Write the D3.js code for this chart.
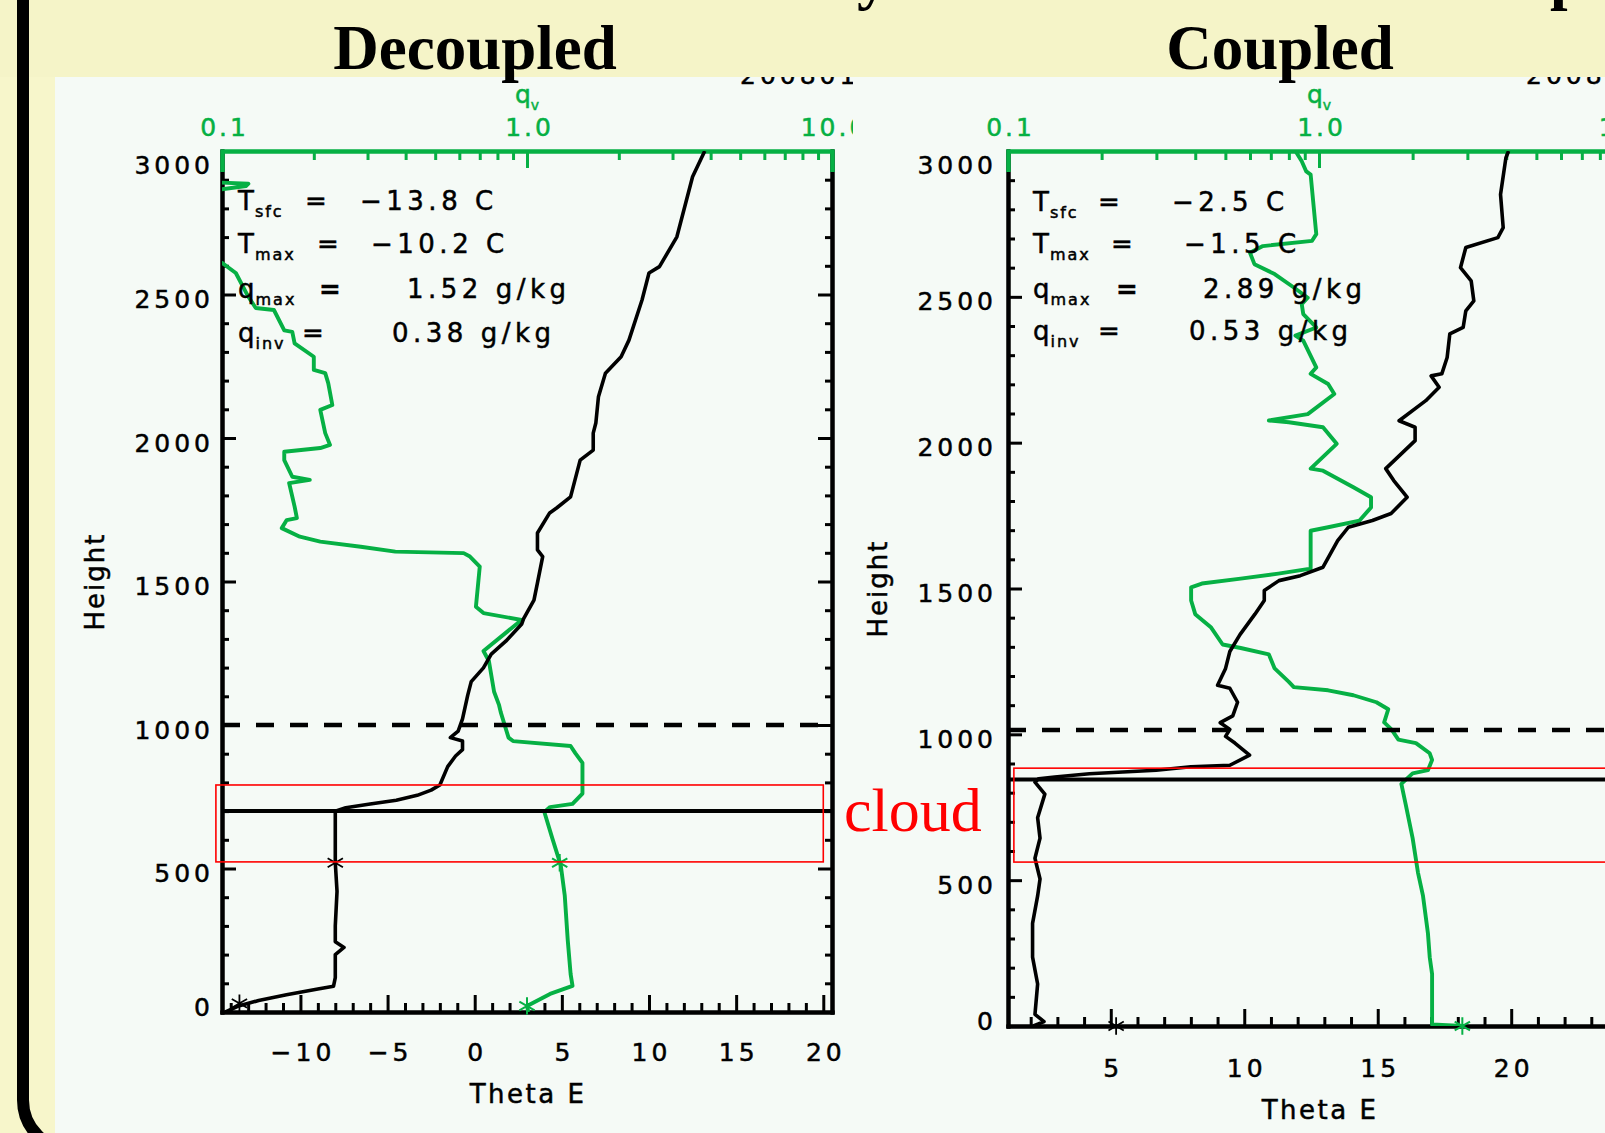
<!DOCTYPE html>
<html>
<head>
<meta charset="utf-8">
<script src="https://cdn.jsdelivr.net/npm/d3@7"></script>
<style>
  html, body { margin: 0; padding: 0; background: #f7f6cb; }
  svg { display: block; }
</style>
</head>
<body>
<svg id="chart" width="1605" height="1133"></svg>
<script>
// ---- Sounding data: [height (m), value] ----
// Decoupled case: equivalent potential temperature (°C)
const decThetaE = [
  [0,-14.3],[20,-13.6],[40,-12.4],[60,-10.8],[80,-9.0],[90,-8.1],[120,-8.0],[200,-8.0],[225,-7.5],
  [245,-8.0],[300,-8.0],[420,-7.9],[520,-8.0],[600,-8.0],[700,-8.0],[712,-7.4],[725,-6.0],[738,-4.5],
  [755,-3.3],[773,-2.5],[791,-2.0],[855,-1.55],[892,-1.1],[914,-0.7],[944,-0.7],[956,-1.4],[979,-0.95],
  [1021,-0.7],[1104,-0.4],[1151,-0.2],[1199,0.5],[1247,0.95],[1293,1.8],[1352,2.7],[1370,2.8],
  [1435,3.4],[1495,3.6],[1587,3.9],[1610,3.6],[1669,3.6],[1739,4.3],[1756,4.7],[1795,5.5],[1923,6.05],
  [1958,6.8],[2017,6.8],[2052,6.95],[2144,7.1],[2226,7.5],[2283,8.4],[2341,8.85],[2481,9.6],
  [2575,10.0],[2597,10.6],[2701,11.6],[2910,12.5],[3000,13.2]
];
// Decoupled case: water vapour mixing ratio (g/kg)
const decQv = [
  [0,1.01],[21,1.0],[63,1.19],[91,1.41],[132,1.39],[251,1.36],[405,1.33],[512,1.29],[606,1.21],
  [697,1.14],[714,1.19],[725,1.41],[761,1.52],[868,1.52],[902,1.44],[927,1.39],[944,0.90],[956,0.87],
  [1045,0.82],[1069,0.81],[1116,0.78],[1223,0.75],[1258,0.72],[1366,0.96],[1390,0.72],[1412,0.68],
  [1482,0.69],[1552,0.70],[1587,0.65],[1599,0.62],[1604,0.37],[1621,0.285],[1639,0.21],[1656,0.18],
  [1686,0.157],[1714,0.163],[1721,0.176],[1761,0.173],[1843,0.166],[1854,0.194],[1865,0.17],
  [1923,0.16],[1952,0.16],[1965,0.21],[1976,0.226],[2017,0.218],[2098,0.21],[2115,0.23],[2191,0.223],
  [2226,0.218],[2237,0.2],[2283,0.2],[2330,0.173],[2370,0.17],[2375,0.16],[2446,0.148],[2453,0.129],
  [2492,0.122],[2575,0.111],[2610,0.100],[2640,0.09],[2750,0.085],[2860,0.09],[2878,0.12],
  [2886,0.122],[2892,0.09],[3000,0.085]
];
// Coupled case: equivalent potential temperature (°C)
const cplThetaE = [
  [0,2.1],[15,2.5],[40,2.16],[144,2.26],[236,2.07],[352,2.07],[446,2.26],[504,2.35],[575,2.16],
  [644,2.35],[714,2.26],[795,2.53],[836,2.16],[848,2.3],[854,2.9],[865,4.2],[877,6.7],[889,8.0],
  [894,9.46],[929,10.2],[970,9.65],[993,9.3],[1017,9.46],[1040,9.1],[1063,9.57],[1110,9.75],
  [1158,9.46],[1168,9.0],[1226,9.3],[1284,9.46],[1342,9.84],[1412,10.4],[1459,10.75],[1493,10.75],
  [1527,11.3],[1544,12.1],[1573,12.95],[1664,13.5],[1710,13.9],[1733,14.8],[1757,15.5],[1813,16.1],
  [1870,15.6],[1911,15.3],[2007,16.4],[2053,16.4],[2075,15.8],[2144,16.8],[2190,17.3],[2229,17.0],
  [2236,17.4],[2292,17.6],[2373,17.7],[2395,18.2],[2452,18.3],[2486,18.6],[2555,18.5],[2600,18.1],
  [2669,18.3],[2703,19.5],[2737,19.7],[2851,19.6],[2976,19.8],[3000,19.9]
];
// Coupled case: water vapour mixing ratio (g/kg)
const cplQv = [
  [0,2.89],[5,2.31],[178,2.31],[236,2.27],[318,2.24],[446,2.16],[527,2.08],[644,2.0],[760,1.9],
  [830,1.84],[866,2.0],[877,2.24],[912,2.31],[935,2.27],[970,2.05],[982,1.8],[1017,1.71],[1041,1.62],
  [1086,1.67],[1110,1.53],[1134,1.29],[1151,1.07],[1162,0.83],[1180,0.80],[1226,0.72],[1274,0.69],
  [1296,0.56],[1308,0.49],[1366,0.45],[1412,0.40],[1459,0.388],[1504,0.388],[1517,0.42],[1534,0.56],
  [1551,0.74],[1568,0.94],[1698,0.94],[1710,1.07],[1733,1.35],[1778,1.47],[1813,1.47],[1847,1.29],
  [1904,1.03],[1911,0.94],[1996,1.14],[2053,1.03],[2070,0.80],[2076,0.69],[2098,0.92],[2167,1.12],
  [2201,1.07],[2236,0.94],[2258,0.98],[2350,0.89],[2367,0.84],[2395,0.98],[2441,0.89],[2475,0.88],
  [2497,0.92],[2532,0.83],[2578,0.72],[2612,0.62],[2651,0.60],[2674,0.66],[2692,0.95],[2715,0.98],
  [2919,0.94],[2930,0.91],[2965,0.88],[3000,0.84]
];

// Marked observations: [height, value]
const decThetaMarks = [[30,-13.5],[520,-8.0]];
const decQvMarks = [[21,1.0],[520,1.28]];
const cplThetaMarks = [[0,5.2]];
const cplQvMarks = [[0,2.89]];

// Inversion base (solid) and reference level (dashed), metres
const decLevels = { inversion: 700, reference: 1000 };
const cplLevels = { inversion: 845, reference: 1015 };

// Highlighted cloud layer: theta-E extent and height extent
const decCloud = { theta: [-14.85, 20.0], height: [523, 791] };
const cplCloud = { theta: [1.37, 30], height: [562, 884] };

// Summary values printed inside each panel
const decStats = [
  { sym: "T", sub: "sfc", value: "\u221213.8 C" },
  { sym: "T", sub: "max", value: "\u221210.2 C" },
  { sym: "q", sub: "max", value: "1.52 g/kg" },
  { sym: "q", sub: "inv", value: "0.38 g/kg" }
];
const cplStats = [
  { sym: "T", sub: "sfc", value: "\u22122.5 C" },
  { sym: "T", sub: "max", value: "\u22121.5 C" },
  { sym: "q", sub: "max", value: "2.89 g/kg" },
  { sym: "q", sub: "inv", value: "0.53 g/kg" }
];

const heightMajor = [0, 500, 1000, 1500, 2000, 2500, 3000];
const qvMajor = [0.1, 1, 10];
const qvTickLabels = ["0.1", "1.0", "10.0"];
const qvMinor = [0.2,0.3,0.4,0.5,0.6,0.7,0.8,0.9,2,3,4,5,6,7,8,9];
const panelTitles = ["Decoupled", "Coupled"];
const dateLabels = ["20080115", "20080121"];

// ---- Drawing ----
const W = 1605, H = 1133, BAND = 77;
const GREEN = "#06b044";
const FONT = "'DejaVu Sans', Verdana, sans-serif";
const SERIF = "'Liberation Serif', 'Times New Roman', serif";
const LS = 4;   // letter spacing of the plot lettering

const svg = d3.select("#chart");
const defs = svg.append("defs");
svg.append("rect").attr("width", W).attr("height", H).attr("fill", "#f7f6cb");

const panels = [
  { key: "dec", title: panelTitles[0], date: dateLabels[0], theta: decThetaE, qv: decQv,
    thetaMarks: decThetaMarks, qvMarks: decQvMarks, levels: decLevels, cloud: decCloud, stats: decStats,
    thetaDomain: [-14.5, 20.5], x0: 222, x1: 832, yTop: 151, yBot: 1012, imgX0: 55, imgX1: 853,
    leftPad: 8, bottomPad: 31, titleX: 475, heightX: 95, xTitleY: 1103,
    statX: 16, statBase: [210, 253, 298, 342], eqOff: [83, 95, 97, 80], valOff: [138, 149, 185, 170] },
  { key: "cpl", title: panelTitles[1], date: dateLabels[1], theta: cplThetaE, qv: cplQv,
    thetaMarks: cplThetaMarks, qvMarks: cplQvMarks, levels: cplLevels, cloud: cplCloud, stats: cplStats,
    thetaDomain: [1.15, 24.45], x0: 1008, x1: 1630, yTop: 151, yBot: 1026, imgX0: 853, imgX1: 1605,
    leftPad: 11, bottomPad: 33, titleX: 1280, heightX: 878, xTitleY: 1119,
    statX: 25, statBase: [211, 253, 298, 340], eqOff: [90, 103, 108, 90], valOff: [164, 176, 195, 181] }
];

function styleAxis(sel, color, domainWidth, tickWidth) {
  sel.attr("color", color).attr("font-family", FONT).attr("font-size", 25);
  sel.select(".domain").attr("stroke-width", domainWidth).attr("stroke-linecap", "square");
  sel.selectAll(".tick line").attr("stroke-width", tickWidth);
  sel.selectAll(".tick text").style("letter-spacing", LS + "px")
    .attr("stroke", "currentColor").attr("stroke-width", 0.5);
}

function idlText(g, x, y, str, size, anchor, spacing) {
  return g.append("text").attr("x", x).attr("y", y)
    .attr("font-family", FONT).attr("font-size", size || 26)
    .attr("text-anchor", anchor || "start")
    .style("letter-spacing", (spacing == null ? LS : spacing) + "px")
    .attr("fill", "#000").attr("stroke", "#000").attr("stroke-width", 0.5).text(str);
}

const overlay = [];

panels.forEach(p => {
  const x = d3.scaleLinear().domain(p.thetaDomain).range([p.x0, p.x1]);
  const xq = d3.scaleLog().domain([0.1, 10]).range([p.x0, p.x1]);
  const y = d3.scaleLinear().domain([0, 3000]).range([p.yBot, p.yTop]);

  defs.append("clipPath").attr("id", "img-" + p.key)
    .append("rect").attr("x", p.imgX0).attr("y", BAND).attr("width", p.imgX1 - p.imgX0).attr("height", H - BAND);
  defs.append("clipPath").attr("id", "plot-" + p.key)
    .append("rect").attr("x", p.x0).attr("y", p.yTop).attr("width", p.x1 - p.x0).attr("height", p.yBot - p.yTop);

  const g = svg.append("g").attr("clip-path", `url(#img-${p.key})`);
  g.append("rect").attr("x", p.imgX0).attr("y", BAND).attr("width", p.imgX1 - p.imgX0)
    .attr("height", H - BAND).attr("fill", "#f5faf6");

  // date stamp, mostly hidden behind the title band
  idlText(g, p.x0 + 518, 84, p.date, 25);

  // height axis (left), with inward ticks; end labels nudged inward
  const yMinor = d3.range(0, 3001, 100).filter(v => v % 500 !== 0);
  const labelDy = d => d === 3000 ? "0.88em" : d === 0 ? "0.12em" : "0.52em";
  g.append("g").attr("transform", `translate(${p.x0},0)`)
    .call(d3.axisLeft(y).tickValues(yMinor).tickSizeInner(-7).tickSizeOuter(0).tickFormat(""))
    .call(s => styleAxis(s, "#000", 4, 3));
  g.append("g").attr("transform", `translate(${p.x0},0)`)
    .call(d3.axisLeft(y).tickValues(heightMajor).tickSizeInner(-14).tickSizeOuter(0)
      .tickPadding(p.leftPad).tickFormat(d3.format("d")))
    .call(s => styleAxis(s, "#000", 4, 3))
    .call(s => s.selectAll(".tick text").attr("dy", labelDy));

  // right edge of the frame
  g.append("g").attr("transform", `translate(${p.x1},0)`)
    .call(d3.axisRight(y).tickValues(yMinor).tickSizeInner(-7).tickSizeOuter(0).tickFormat(""))
    .call(s => styleAxis(s, "#000", 4, 3));
  g.append("g").attr("transform", `translate(${p.x1},0)`)
    .call(d3.axisRight(y).tickValues(heightMajor).tickSizeInner(-14).tickSizeOuter(0).tickFormat(""))
    .call(s => styleAxis(s, "#000", 4, 3));

  // theta-E axis (bottom)
  const [t0, t1] = p.thetaDomain;
  const tMajor = d3.range(Math.ceil(t0 / 5) * 5, t1 + 0.001, 5);
  const tMinor = d3.range(Math.ceil(t0), t1 + 0.001, 1).filter(v => v % 5 !== 0);
  g.append("g").attr("transform", `translate(0,${p.yBot})`)
    .call(d3.axisBottom(x).tickValues(tMinor).tickSizeInner(-9).tickSizeOuter(0).tickFormat(""))
    .call(s => styleAxis(s, "#000", 4, 3));
  g.append("g").attr("transform", `translate(0,${p.yBot})`)
    .call(d3.axisBottom(x).tickValues(tMajor).tickSizeInner(-17).tickSizeOuter(0)
      .tickPadding(p.bottomPad).tickFormat(d3.format("d")))
    .call(s => styleAxis(s, "#000", 4, 3))
    .call(s => s.selectAll(".tick text").attr("dx", LS / 2));

  // mixing-ratio axis (top, log)
  g.append("g").attr("transform", `translate(0,${p.yTop})`)
    .call(d3.axisTop(xq).tickValues(qvMinor).tickSizeInner(-9).tickSizeOuter(-19).tickFormat(""))
    .call(s => styleAxis(s, GREEN, 4, 3));
  g.append("g").attr("transform", `translate(0,${p.yTop})`)
    .call(d3.axisTop(xq).tickValues(qvMajor).tickSizeInner(-17).tickSizeOuter(-19)
      .tickPadding(15).tickFormat((d, i) => qvTickLabels[i]))
    .call(s => styleAxis(s, GREEN, 4, 3))
    .call(s => s.selectAll(".tick text").attr("dx", LS / 2).style("letter-spacing", "3px"));

  // q_v axis name
  const qLab = g.append("text").attr("x", xq(1)).attr("y", 103).attr("text-anchor", "middle")
    .attr("font-family", FONT).attr("font-size", 25).attr("fill", GREEN)
    .attr("stroke", GREEN).attr("stroke-width", 0.5);
  qLab.append("tspan").text("q");
  qLab.append("tspan").attr("font-size", 14).attr("dy", 7).text("v");

  // axis titles
  idlText(g, 0, 0, "Height", 26, "middle", 2)
    .attr("transform", `translate(${p.heightX},${(p.yTop + p.yBot) / 2}) rotate(-90)`)
    .attr("dy", "0.35em");
  idlText(g, (p.x0 + p.x1) / 2 + 1, p.xTitleY, "Theta E", 26, "middle", 2.5);

  // data
  const plot = g.append("g").attr("clip-path", `url(#plot-${p.key})`);
  const lineT = d3.line().x(d => x(d[1])).y(d => y(d[0]));
  const lineQ = d3.line().x(d => xq(d[1])).y(d => y(d[0]));

  plot.append("path").datum(p.qv).attr("d", lineQ).attr("fill", "none")
    .attr("stroke", GREEN).attr("stroke-width", 3.9).attr("stroke-linejoin", "round");
  plot.append("path").datum(p.theta).attr("d", lineT).attr("fill", "none")
    .attr("stroke", "#000").attr("stroke-width", 3.6).attr("stroke-linejoin", "round");

  // inversion base and reference level
  g.append("line").attr("x1", p.x0).attr("x2", p.x1)
    .attr("y1", y(p.levels.inversion)).attr("y2", y(p.levels.inversion))
    .attr("stroke", "#000").attr("stroke-width", 4);
  g.append("line").attr("x1", p.x0).attr("x2", p.x1)
    .attr("y1", y(p.levels.reference)).attr("y2", y(p.levels.reference))
    .attr("stroke", "#000").attr("stroke-width", 4.5).attr("stroke-dasharray", "18,16");

  // observation markers
  const star = d3.symbol().type(d3.symbolAsterisk).size(220);
  g.selectAll(null).data(p.thetaMarks).join("path").attr("d", star)
    .attr("transform", d => `translate(${x(d[1])},${y(d[0])})`)
    .attr("fill", "none").attr("stroke", "#000").attr("stroke-width", 1.8);
  g.selectAll(null).data(p.qvMarks).join("path").attr("d", star)
    .attr("transform", d => `translate(${xq(d[1])},${y(d[0])})`)
    .attr("fill", "none").attr("stroke", GREEN).attr("stroke-width", 2);

  // summary block
  p.stats.forEach((s, i) => {
    const base = p.statBase[i];
    const t = idlText(g, p.x0 + p.statX, base, "", 26, "start", 1);
    t.append("tspan").text(s.sym);
    t.append("tspan").attr("font-size", 16).attr("dy", 7).style("letter-spacing", "2px").text(s.sub);
    idlText(g, p.x0 + p.eqOff[i], base, "=", 26).attr("font-weight", s.sym === "q" && s.sub === "max" ? "bold" : null);
    idlText(g, p.x0 + p.valOff[i], base, s.value, 26, "start", 4.5);
  });

  overlay.push({ p, x, y });
});

// top title band
svg.append("rect").attr("x", 0).attr("y", 0).attr("width", W).attr("height", BAND).attr("fill", "#f5f4c8");
// descenders of the heading line above
svg.append("text").attr("x", 857).attr("y", -3).attr("font-family", SERIF).attr("font-weight", "bold")
  .attr("font-size", 63).text("y");
svg.append("text").attr("x", 1550).attr("y", -3).attr("font-family", SERIF).attr("font-weight", "bold")
  .attr("font-size", 63).text("p");

overlay.forEach(({ p, x, y }) => {
  svg.append("text").attr("x", p.titleX).attr("y", 69).attr("text-anchor", "middle")
    .attr("font-family", SERIF).attr("font-weight", "bold").attr("font-size", 63)
    .attr("fill", "#000").text(p.title);
  const c = p.cloud;
  svg.append("rect")
    .attr("x", x(c.theta[0])).attr("y", y(c.height[1]))
    .attr("width", x(c.theta[1]) - x(c.theta[0])).attr("height", y(c.height[0]) - y(c.height[1]))
    .attr("fill", "none").attr("stroke", "#ff0000").attr("stroke-width", 1.6);
});

svg.append("text").attr("x", 844).attr("y", 831).attr("font-family", SERIF)
  .attr("font-size", 62).attr("fill", "#ff0000").text("cloud");

// slide frame (left edge with rounded lower corner)
svg.append("rect").attr("x", 23).attr("y", -100).attr("width", 1800).attr("height", 1250)
  .attr("rx", 50).attr("fill", "none").attr("stroke", "#000").attr("stroke-width", 12);
</script>
</body>
</html>
